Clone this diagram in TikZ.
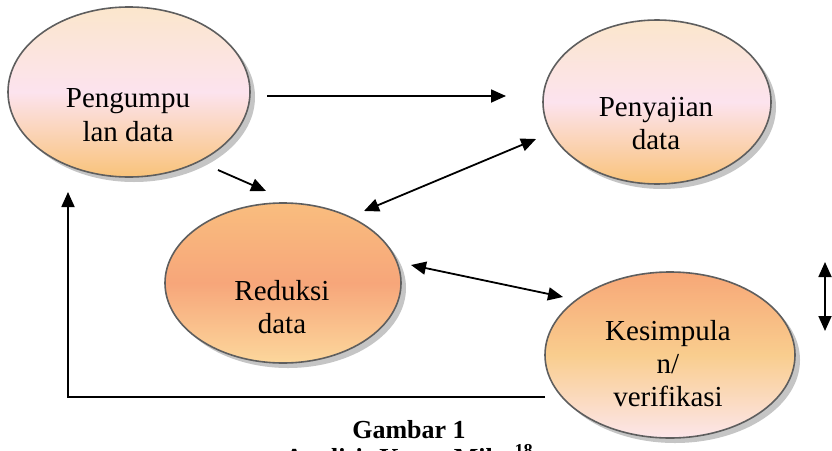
\documentclass[tikz,border=0pt]{standalone}
\usepackage{fontspec}
\setmainfont{Liberation Serif}
\usetikzlibrary{arrows.meta,shapes.geometric}
\definecolor{edgegray}{HTML}{5E5E5E}
\definecolor{paletop}{HTML}{FBE6CC}
\definecolor{palemid}{HTML}{FCE3EE}
\definecolor{palebot}{HTML}{F9C37A}
\definecolor{salmontop}{HTML}{F9BD7E}
\definecolor{salmonmid}{HTML}{F7A67A}
\definecolor{salmonbot}{HTML}{FCD79C}
\definecolor{warmtop}{HTML}{F7A777}
\definecolor{warmmid}{HTML}{F9CD8E}
\definecolor{warmbot}{HTML}{FCE6EA}
\tikzset{
  bubble/.style={ellipse, draw=edgegray, line width=1.6pt, inner sep=0pt},
  palebubble/.style={bubble, top color=paletop, bottom color=palebot, middle color=palemid},
  salmonbubble/.style={bubble, top color=salmontop, bottom color=salmonbot, middle color=salmonmid},
  warmbubble/.style={bubble, top color=warmtop, bottom color=warmbot, middle color=warmmid},
  shadowblob/.style={ellipse, fill=black!45, opacity=0.5, draw=none},
  lbl/.style={anchor=base, inner sep=0pt, font=\fontsize{29}{34}\selectfont},
  conn/.style={line width=1.8pt, -{Triangle[length=15pt,width=13pt]}},
  biconn/.style={line width=1.8pt, {Triangle[length=15pt,width=13pt]}-{Triangle[length=15pt,width=13pt]}},
}
\begin{document}
\begin{tikzpicture}[x=1pt,y=-1pt]
\useasboundingbox (0,0) rectangle (832,450);
\fill[white] (0,0) rectangle (832,450);
% shadows
\node[shadowblob, minimum width=242pt, minimum height=170pt] at (134,97) {};
\node[shadowblob, minimum width=228pt, minimum height=164pt] at (662,107) {};
\node[shadowblob, minimum width=236pt, minimum height=160pt] at (288,288) {};
\node[shadowblob, minimum width=250pt, minimum height=166pt] at (675,360) {};
% ellipses
\node[palebubble, minimum width=242pt, minimum height=170pt] (peng) at (129,92) {};
\node[palebubble, minimum width=228pt, minimum height=164pt] (peny) at (657,102) {};
\node[salmonbubble, minimum width=236pt, minimum height=160pt] (red) at (283,283) {};
\node[warmbubble, minimum width=250pt, minimum height=166pt] (kes) at (670,355) {};
% labels
\node[lbl] (peng1) at (128,107) {Pengumpu};
\node[lbl] (peng2) at (128,141) {lan data};
\node[lbl] (peny1) at (656,116) {Penyajian};
\node[lbl] (peny2) at (656,149) {data};
\node[lbl] (red1) at (282,300) {Reduksi};
\node[lbl] (red2) at (282,333) {data};
\node[lbl] (kes1) at (668,340) {Kesimpula};
\node[lbl] (kes2) at (668,373) {n/};
\node[lbl] (kes3) at (668,406) {verifikasi};
% connector endpoints
\coordinate (a1) at (267,96);
\coordinate (a2) at (506,96);
\coordinate (b1) at (218,170);
\coordinate (b2) at (266,191);
\coordinate (c1) at (364,211);
\coordinate (c2) at (536,139);
\coordinate (d1) at (411,265);
\coordinate (d2) at (563,297);
\coordinate (e1) at (545,397);
\coordinate (e2) at (68,397);
\coordinate (e3) at (68,192);
\coordinate (f1) at (825,262);
\coordinate (f2) at (825,331);
\draw[conn] (a1) -- (a2);
\draw[conn] (b1) -- (b2);
\draw[biconn] (c1) -- (c2);
\draw[biconn] (d1) -- (d2);
\draw[conn] (e1) -- (e2) -- (e3);
\draw[biconn] (f1) -- (f2);
% caption
\node[font=\fontsize{26}{30}\selectfont\bfseries, anchor=base] (cap1) at (409,438) {Gambar 1};
\node[font=\fontsize{26}{30}\selectfont\bfseries, anchor=base] (cap2) at (409,466) {Analisis Kasus Miles\textsuperscript{18}};
\end{tikzpicture}
\end{document}
